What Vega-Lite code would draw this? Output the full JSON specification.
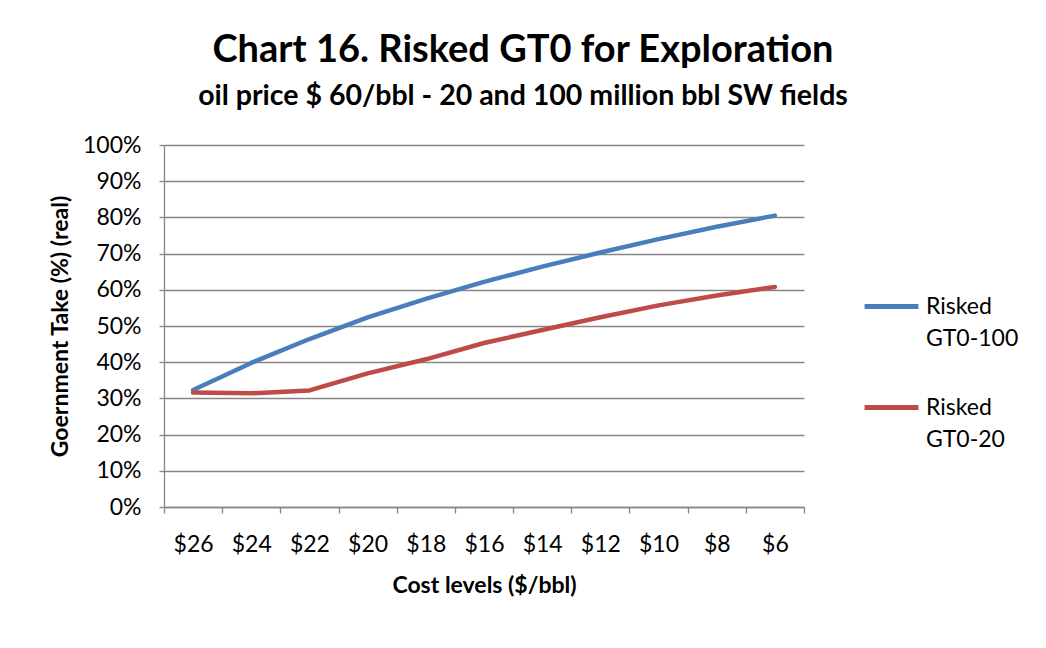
{
  "$schema": "https://vega.github.io/schema/vega-lite/v6.json",
  "width": 640,
  "height": 362,
  "autosize": "none",
  "padding": {"left": 164, "top": 145, "right": 242, "bottom": 141},
  "background": "white",
  "config": {
    "font": "Lato",
    "view": {"stroke": null}
  },
  "title": {
    "text": "Chart 16. Risked GT0 for Exploration",
    "subtitle": "oil price $ 60/bbl - 20 and 100 million bbl SW fields",
    "anchor": "middle",
    "frame": "group",
    "dx": 39,
    "offset": 24,
    "fontSize": 38,
    "fontWeight": "bold",
    "color": "#000000",
    "subtitleFontSize": 28.5,
    "subtitleFontWeight": "bold",
    "subtitleColor": "#000000",
    "subtitlePadding": 12
  },
  "data": {
    "values": [
      {"cost": "$26", "series": "Risked GT0-100", "gt": 0.323},
      {"cost": "$24", "series": "Risked GT0-100", "gt": 0.398},
      {"cost": "$22", "series": "Risked GT0-100", "gt": 0.464},
      {"cost": "$20", "series": "Risked GT0-100", "gt": 0.524},
      {"cost": "$18", "series": "Risked GT0-100", "gt": 0.575},
      {"cost": "$16", "series": "Risked GT0-100", "gt": 0.622},
      {"cost": "$14", "series": "Risked GT0-100", "gt": 0.664},
      {"cost": "$12", "series": "Risked GT0-100", "gt": 0.703},
      {"cost": "$10", "series": "Risked GT0-100", "gt": 0.740},
      {"cost": "$8", "series": "Risked GT0-100", "gt": 0.774},
      {"cost": "$6", "series": "Risked GT0-100", "gt": 0.805},
      {"cost": "$26", "series": "Risked GT0-20", "gt": 0.316},
      {"cost": "$24", "series": "Risked GT0-20", "gt": 0.314},
      {"cost": "$22", "series": "Risked GT0-20", "gt": 0.322},
      {"cost": "$20", "series": "Risked GT0-20", "gt": 0.369},
      {"cost": "$18", "series": "Risked GT0-20", "gt": 0.408},
      {"cost": "$16", "series": "Risked GT0-20", "gt": 0.453},
      {"cost": "$14", "series": "Risked GT0-20", "gt": 0.489},
      {"cost": "$12", "series": "Risked GT0-20", "gt": 0.524},
      {"cost": "$10", "series": "Risked GT0-20", "gt": 0.557},
      {"cost": "$8", "series": "Risked GT0-20", "gt": 0.584},
      {"cost": "$6", "series": "Risked GT0-20", "gt": 0.608}
    ]
  },
  "mark": {"type": "line", "strokeWidth": 4.5, "strokeCap": "round", "strokeJoin": "round"},
  "encoding": {
    "x": {
      "field": "cost",
      "type": "ordinal",
      "sort": ["$26", "$24", "$22", "$20", "$18", "$16", "$14", "$12", "$10", "$8", "$6"],
      "scale": {"type": "band", "paddingInner": 0, "paddingOuter": 0},
      "axis": {
        "title": "Cost levels ($/bbl)",
        "titleFontSize": 23,
        "titleFontWeight": "bold",
        "titleColor": "#000000",
        "titlePadding": 18,
        "labelAngle": 0,
        "labelFontSize": 23,
        "labelColor": "#000000",
        "labelPadding": 20,
        "tickBand": "extent",
        "tickSize": 6,
        "tickColor": "#868686",
        "tickWidth": 1.3,
        "domainColor": "#868686",
        "domainWidth": 1.3,
        "grid": false
      }
    },
    "y": {
      "field": "gt",
      "type": "quantitative",
      "scale": {"domain": [0, 1]},
      "axis": {
        "title": "Goernment Take (%) (real)",
        "titleFontSize": 23,
        "titleFontWeight": "bold",
        "titleColor": "#000000",
        "titlePadding": 10,
        "values": [0, 0.1, 0.2, 0.3, 0.4, 0.5, 0.6, 0.7, 0.8, 0.9, 1],
        "format": ".0%",
        "labelFontSize": 23,
        "labelColor": "#000000",
        "labelPadding": 18,
        "tickSize": 5,
        "tickColor": "#868686",
        "tickWidth": 1.3,
        "domainColor": "#868686",
        "domainWidth": 1.3,
        "grid": true,
        "gridColor": "#868686",
        "gridWidth": 1.3
      }
    },
    "color": {
      "field": "series",
      "type": "nominal",
      "scale": {"domain": ["Risked GT0-100", "Risked GT0-20"], "range": ["#4A7EBB", "#BE4B48"]},
      "legend": {
        "title": null,
        "orient": "none",
        "legendX": 698,
        "legendY": 132,
        "symbolType": "stroke",
        "symbolSize": 2900,
        "symbolStrokeWidth": 5,
        "labelFontSize": 23,
        "labelColor": "#000000",
        "labelOffset": 5,
        "labelBaseline": "middle",
        "labelExpr": "split(datum.label, ' ')",
        "rowPadding": 27,
        "encode": {
          "labels": {"update": {"lineHeight": {"value": 32}}}
        }
      }
    }
  }
}
